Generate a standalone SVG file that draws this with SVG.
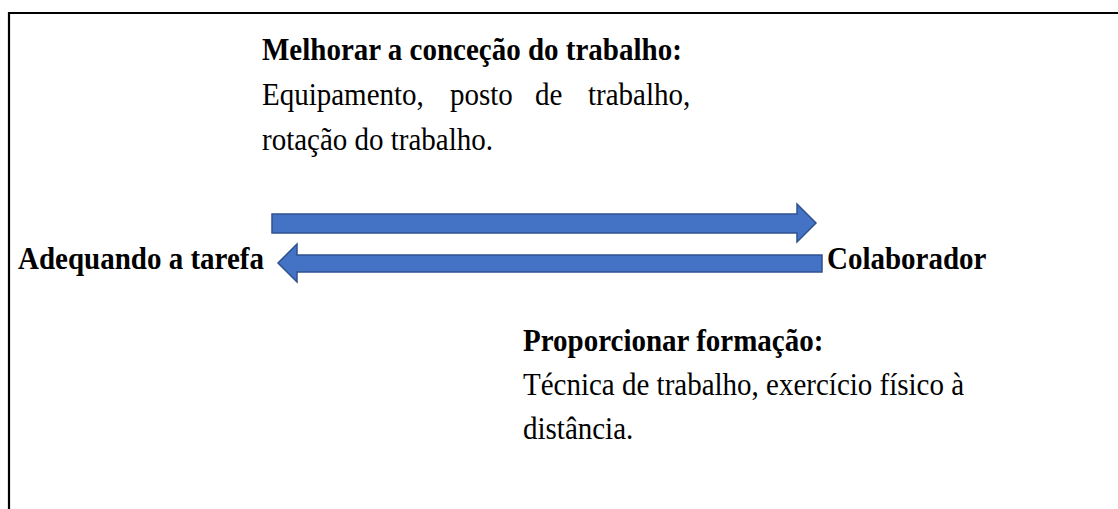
<svg xmlns="http://www.w3.org/2000/svg" width="1118" height="509" viewBox="0 0 1118 509">
  <style>
    text { font-family: "Liberation Serif", "Times New Roman", serif; font-size: 29px; fill: #000; }
    .b { font-weight: bold; }
    .arrow { fill: #4472C4; stroke: #2F528F; stroke-width: 1.5; stroke-linejoin: miter; }
    .frame { fill: none; stroke: #000; stroke-width: 2.2; }
  </style>
  <rect width="1118" height="509" fill="#fff"/>
  <path class="frame" d="M9,509 V13 H1118"/>

  <g id="node-melhorar">
    <text class="b" transform="matrix(1,0,0,1.06,262,60)">Melhorar a conceção do trabalho:</text>
    <text transform="matrix(1,0,0,1.06,262,105)">Equipamento,</text>
    <text transform="matrix(1,0,0,1.06,450,105)">posto</text>
    <text transform="matrix(1,0,0,1.06,535,105)">de</text>
    <text transform="matrix(1,0,0,1.06,588,105)">trabalho,</text>
    <text transform="matrix(1,0,0,1.06,262,150)">rotação do trabalho.</text>
  </g>

  <g id="node-adequando">
    <text class="b" transform="matrix(1,0,0,1.06,18,269)">Adequando a tarefa</text>
  </g>

  <g id="node-colaborador">
    <text class="b" transform="matrix(1,0,0,1.06,827,269)">Colaborador</text>
  </g>

  <g id="node-proporcionar">
    <text class="b" transform="matrix(1,0,0,1.06,523,351)">Proporcionar formação:</text>
    <text transform="matrix(1,0,0,1.06,523,395)">Técnica de trabalho, exercício físico à</text>
    <text transform="matrix(1,0,0,1.06,523,439)">distância.</text>
  </g>

  <g id="connectors">
    <path class="arrow" d="M272,214 H797 V204 L816,223 L797,242 V233 H272 Z"/>
    <path class="arrow" d="M822,255 H297 V244 L278,263 L297,282 V272 H822 Z"/>
  </g>
</svg>
